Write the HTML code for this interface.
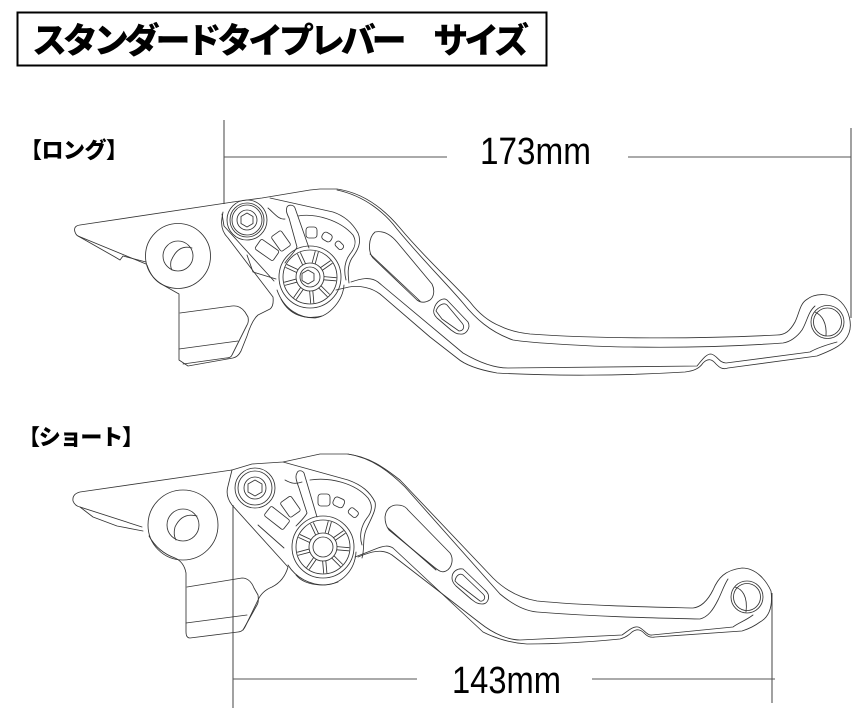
<!DOCTYPE html>
<html lang="ja"><head><meta charset="utf-8"><title>スタンダードタイプレバー サイズ</title>
<style>
html,body{margin:0;padding:0;background:#fff}
svg{display:block}
.l{fill:none;stroke:#333;stroke-width:.85;stroke-linejoin:round;stroke-linecap:round}
.d{fill:none;stroke:#555;stroke-width:1.1}
.j{font-family:"Liberation Sans","Noto Sans CJK JP",sans-serif;font-weight:900;fill:#000}
.n{font-family:"Liberation Sans",sans-serif;fill:#000}
</style></head><body>
<svg width="868" height="716" viewBox="0 0 868 716" xmlns="http://www.w3.org/2000/svg">
<defs>
<path id="s" d="M14,-1.6H26M14,1.6H26"/>
<g id="dial">
<circle r="31"/><circle r="27"/><circle r="14"/><circle r="10"/>
<use href="#s" transform="rotate(5)"/><use href="#s" transform="rotate(45)"/><use href="#s" transform="rotate(85)"/><use href="#s" transform="rotate(125)"/><use href="#s" transform="rotate(165)"/><use href="#s" transform="rotate(205)"/><use href="#s" transform="rotate(245)"/><use href="#s" transform="rotate(285)"/><use href="#s" transform="rotate(325)"/>
</g>
</defs>
<rect x="17.5" y="12.5" width="529" height="53" fill="#fff" stroke="#000" stroke-width="2"/>
<text class="j" x="32" y="53" font-size="35" textLength="497" lengthAdjust="spacing">スタンダードタイプレバー　サイズ</text>
<text class="j" x="20" y="158" font-size="22" textLength="108" lengthAdjust="spacing">【ロング】</text>
<text class="j" x="18" y="445" font-size="22" textLength="126" lengthAdjust="spacing">【ショート】</text>

<path class="d" d="M224,120V204M224,157H447M628,157H851M851,128V318"/>
<text class="n" x="480" y="164" font-size="38" textLength="111" lengthAdjust="spacingAndGlyphs">173mm</text>
<path class="d" d="M233,505V708M233,679H417M592,679H775M772,593V703"/>
<text class="n" x="452" y="693" font-size="38" textLength="109" lengthAdjust="spacingAndGlyphs">143mm</text>

<!-- long lever -->
<g class="l">
<path d="M233,202L80,225Q73,226 75,232Q76,235 78,236L115,257L120,260L123,256L146,262"/>
<path d="M78,236L146,264"/>
<circle cx="178" cy="256" r="32.5"/><circle cx="178" cy="256" r="15"/>
<path d="M192,248Q178,244 171,261Q170,267 172,270"/>
<path d="M147,265Q152,280 163,285L179,294V360L188,366L233,358Q238,357 241,351L247,336Q252,320 258,315L270,309Q274,306 273,297L228,238Q220,230 222,218L223,212"/>
<path d="M180,313L232,306Q240,305 245,312L248,317Q249,322 247,325L232,355Q231,358 226,358L183,364"/>
<path d="M179,349L238,341"/>
<path d="M222,214L224,226L274,281M247,255L253,272L276,279"/>
<circle cx="247" cy="220" r="20"/><circle cx="247" cy="220" r="17"/><circle cx="247" cy="220" r="15"/><circle cx="247" cy="220" r="10"/><path d="M247,213L253,216.5V223.5L247,227L241,223.5V216.5Z"/>
<path d="M233,202L262,198L310,190L320,189H337C365,193 385,210 400,228C425,258 450,280 470,302C480,315 490,322 500,326C510,331 520,333 530,334C600,339 700,339 777,335C785,335 790,331 795,322C799,314 800,304 806,300C816,292 832,293 841,302C850,311 852,325 849,333C845,344 835,349 817,356L728,368C722,370 719,367 716,364C712,359 708,358 703,363C699,369 693,371 685,372C620,376 550,376 497,373C480,370 465,365 457,358L430,337L380,294C372,288 360,285 349,287L336,290"/>
<path d="M270,198L333,212C345,216 353,224 358,233C362,242 358,250 352,258C347,266 348,275 349,283"/>
<path d="M268,208C275,214 279,220 285,219M298,216C315,213 340,220 353,235C357,242 355,248 350,254C344,262 344,272 346,280"/>
<path d="M337,190C365,196 385,213 397,229C420,257 445,282 463,303C475,318 490,332 513,340C530,343 600,347 630,347C690,348 740,346 783,343C790,342 797,337 802,330C807,322 808,312 815,306"/>
<path d="M351,282C360,279 370,276 378,282L463,353C480,363 495,368 508,368L697,366C702,360 706,354 711,354C717,355 719,363 726,363L810,352C817,348 826,345 837,342"/>
<circle cx="827.500" cy="322" r="16.500"/><circle cx="827.500" cy="322" r="14"/><path d="M815,312C822,315 827,323 826,336"/>
<path d="M287,207C289,204 294,205 295,208L309,248M287,207C286,210 286,212 289,218L297,247C295,252 288,258 285,263"/>
<path d="M375,232C385,230 392,236 397,242L432,284C435,290 434,297 430,300C425,303 421,303 417,300L373,258C368,252 368,238 375,232Z"/>
<path d="M370,254L420,301"/>
<path d="M434,309C436,301 444,296 448,301L468,322C471,328 466,335 460,334C456,334 454,332 451,330L437,318C434,315 433,312 434,309Z"/>
<path d="M436,311C438,305 444,302 447,305L462,323C466,328 462,331 459,331L442,319Z"/>
<rect x="256" y="244" width="22" height="12" rx="2" transform="rotate(35 267 250)"/>
<rect x="272" y="235" width="18" height="12" rx="2" transform="rotate(55 281 241)"/>
<rect x="306" y="227" width="11" height="11" rx="3"/>
<rect x="322" y="233" width="10" height="8" rx="3" transform="rotate(30 327 237)"/>
<rect x="335" y="242" width="9" height="6" rx="2.5" transform="rotate(45 339 245)"/>
<use href="#dial" x="310" y="277"/>
<path d="M308,270L314,273.500V280.500L308,284L302,280.500V273.500Z"/>
<path d="M277,290C284,310 300,318 315,318C330,316 343,300 344,285"/>
<path d="M281,299C290,316 306,320 322,316"/>
</g>

<!-- short lever -->
<g class="l">
<path d="M232,470L80,492Q72,494 73,501Q75,506 80,507L93,517L117,526L143,531"/>
<path d="M80,507L142,527"/>
<circle cx="183" cy="525" r="35"/><circle cx="183" cy="525" r="16"/>
<path d="M197,516Q182,512 175,527Q173,535 176,540"/>
<path d="M149,536Q158,552 175,558Q184,562 186,573V632Q186,638 190,638L238,632Q243,632 246,625L258,600Q262,591 272,587Q284,581 288,567L232,505Q225,496 228,486L232,470"/>
<path d="M187,587L242,578Q250,578 254,588L258,595Q259,602 257,605L243,630"/>
<path d="M186,623L247,615"/>
<path d="M258,525L284,548"/>
<circle cx="255" cy="488" r="20"/><circle cx="255" cy="488" r="17"/><circle cx="255" cy="488" r="11"/><path d="M255,480L262,484V492L255,496L248,492V484Z"/>
<path d="M232,470L252,464L283,462L320,454L347,454C368,456 385,468 400,480L493,578C505,590 520,598 537,601C590,606 650,607 693,608C702,607 708,600 713,590C718,578 725,570 742,568C756,568 766,580 771,591C773,607 769,617 760,622C752,628 745,630 742,631L655,637C650,638 647,636 644,633C640,629 636,629 632,632C628,636 624,638 620,639C580,643 550,644 527,644C510,643 495,638 483,632L393,548C388,545 384,546 378,548L355,557"/>
<path d="M283,462L348,480C362,485 370,492 375,502C377,510 370,520 366,530C362,540 365,548 362,558"/>
<path d="M348,454C372,458 390,472 405,487L500,594C512,604 525,611 537,612C600,617 660,618 700,619C708,617 713,610 718,600C722,592 724,585 728,579"/>
<path d="M358,557C370,552 382,548 392,555L480,623C495,635 510,640 520,640L622,635C628,631 633,626 638,627C643,628 647,636 652,635L733,627C738,623 745,621 753,615"/>
<path d="M285,480C292,484 296,484 302,482M310,480C330,477 355,483 368,498C373,505 372,512 367,518C361,526 359,536 362,545"/>
<circle cx="747" cy="597" r="16"/><circle cx="747" cy="597" r="13.500"/><path d="M735,587C742,589 748,596 746,612"/>
<path d="M297,473C298,470 302,470 304,473L317,517M297,473C295,476 296,480 299,488L307,513C305,517 300,522 296,526"/>
<path d="M385,517C386,508 392,505 397,505C402,505 406,507 408,510L450,553C454,559 452,568 446,571C442,573 439,571 434,567L389,530C386,526 385,522 385,517Z"/>
<path d="M388,528L436,570"/>
<path d="M452,578C452,571 458,568 463,569L485,590C491,595 489,604 482,604C477,604 475,602 471,599L456,586C453,583 452,581 452,578Z"/>
<path d="M455,581C456,575 460,573 463,575L483,594C487,598 483,602 480,601L458,584Z"/>
<rect x="265" y="512" width="24" height="12" rx="2" transform="rotate(38 277 518)"/>
<rect x="281" y="500" width="18" height="13" rx="2" transform="rotate(55 290 507)"/>
<rect x="318" y="494" width="12" height="12" rx="3"/>
<rect x="333" y="498" width="11" height="9" rx="3" transform="rotate(25 339 503)"/>
<rect x="348" y="509" width="10" height="7" rx="2.500" transform="rotate(40 353 513)"/>
<use href="#dial" x="323" y="547"/>
<path d="M288,565C296,578 310,585 325,585C342,584 355,570 356,552"/>
<path d="M296,575C305,586 325,587 338,582"/>
</g>
</svg>
</body></html>
